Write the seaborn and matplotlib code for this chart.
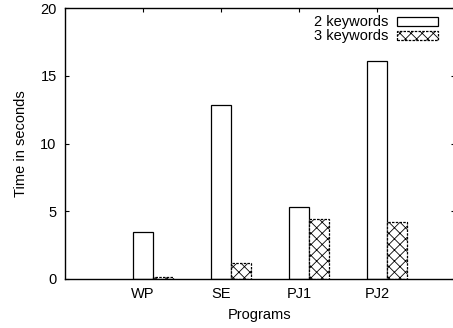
import seaborn as sns
import pandas as pd
import numpy as np
import matplotlib.pyplot as plt

# data
programs = ['WP', 'SE', 'PJ1', 'PJ2']
two_kw = [3.5, 12.85, 5.3, 16.1]
three_kw = [0.15, 1.2, 4.4, 4.2]
series = ['2 keywords', '3 keywords']

df = pd.DataFrame({
    'Programs': programs * 2,
    'time': two_kw + three_kw,
    'kw': [series[0]] * 4 + [series[1]] * 4,
})

sns.set_style('ticks')
plt.rcParams['font.family'] = ['Liberation Sans', 'DejaVu Sans']
plt.rcParams['hatch.linewidth'] = 0.6
plt.rcParams['text.color'] = 'black'
plt.rcParams['axes.labelcolor'] = 'black'
plt.rcParams['xtick.color'] = 'black'
plt.rcParams['ytick.color'] = 'black'

fig = plt.figure(figsize=(4.53, 3.28), dpi=100)
ax = fig.add_axes([0.1435, 0.1494, 0.861, 0.8262])

bw = 0.513
sns.barplot(data=df, x='Programs', y='time', hue='kw', hue_order=series,
            width=bw, gap=0, ax=ax, legend=True)

for i, bar in enumerate(ax.patches[:8]):
    bar.set_facecolor('white')
    bar.set_edgecolor('black')
    bar.set_linewidth(0.9)
    if i >= 4:
        bar.set_hatch('xxx')
        bar.set_linestyle((0, (2, 1)))

off = bw / 4
ax.set_xticks(np.arange(4) - off)
ax.set_xticklabels(programs)
ax.set_xlim(-1 - off, 4 - off)
ax.set_ylim(0, 20)
ax.set_yticks([0, 5, 10, 15, 20])
ax.tick_params(direction='in', length=3, top=True, right=True, labelsize=10.5,
               width=0.8, pad=6)
ax.set_xlabel('Programs', fontsize=10.5, labelpad=5)
ax.set_ylabel('Time in seconds', fontsize=10.5, labelpad=9)
for s in ax.spines.values():
    s.set_linewidth(1)
    s.set_color('black')

h, l = ax.get_legend_handles_labels()
for j, hh in enumerate(h):
    hh.set_facecolor('white')
    hh.set_edgecolor('black')
    hh.set_linewidth(0.9)
    if j == 1:
        hh.set_hatch('xxx')
        hh.set_linestyle((0, (2, 1)))
ax.legend(h, l, loc='upper right', frameon=False, markerfirst=False,
          fontsize=10.5, handlelength=2.8, handleheight=0.6, labelspacing=0.0,
          borderaxespad=0.1, bbox_to_anchor=(0.975, 1.0), handletextpad=0.6)

plt.savefig('out.png', dpi=100, facecolor='w')
